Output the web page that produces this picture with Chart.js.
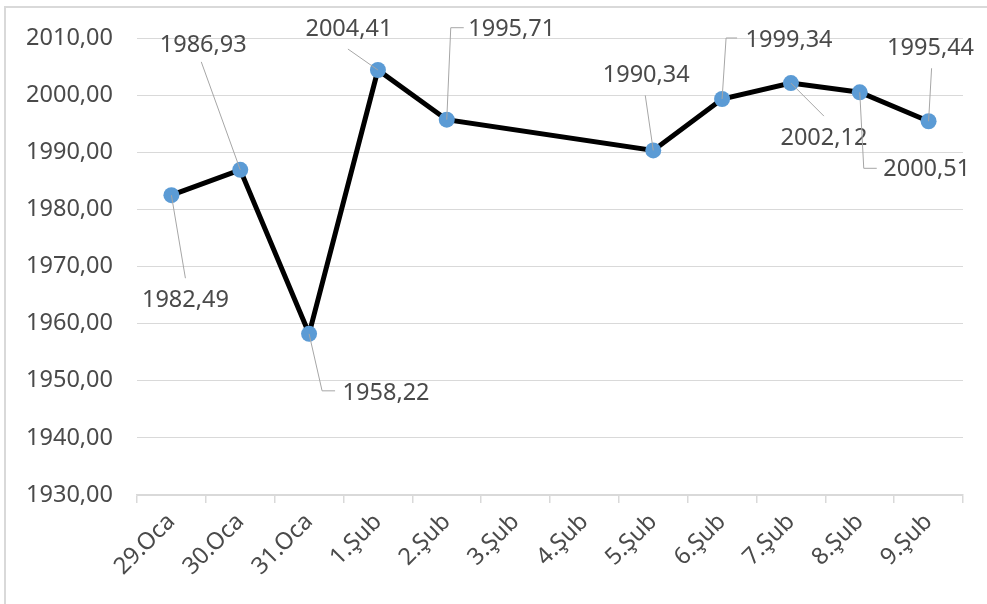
<!DOCTYPE html>
<html lang="tr">
<head>
    <meta charset="UTF-8">
    <title>Kapanış</title>
    <script src="https://cdn.jsdelivr.net/npm/chart.js"></script>
    <style>
        html, body { margin: 0; padding: 0; background: #fff; overflow: hidden; }
        #frame {
            position: absolute; left: 4px; top: 6px;
            width: 1000px; height: 620px;
            border: 2px solid #d9d9d9; box-sizing: border-box;
        }
        #wrap { position: absolute; left: 0; top: 0; width: 987px; height: 604px; }
    </style>
</head>
<body>
    <div id="frame"></div>
    <div id="wrap"><canvas id="priceChart"></canvas></div>

    <script>
        // chart data
        const days = ['29.Oca', '30.Oca', '31.Oca', '1.Şub', '2.Şub', '3.Şub', '4.Şub',
                      '5.Şub', '6.Şub', '7.Şub', '8.Şub', '9.Şub'];
        const closes = [1982.49, 1986.93, 1958.22, 2004.41, 1995.71, null, null,
                        1990.34, 1999.34, 2002.12, 2000.51, 1995.44];
        const yMin = 1930, yMax = 2010, yStep = 10;

        // where each data label sits relative to its point (px), and the leader line path
        const labelPlacement = [
            { dx: 14, dy: 105, leader: [[14, 83]] },
            { dx: -37, dy: -125, leader: [[-39, -108]] },
            { dx: 77, dy: 59, leader: [[13, 57], [26, 57]] },
            { dx: -29, dy: -41, leader: [[-30, -21]] },
            { dx: 65, dy: -90, leader: [[4, -92], [17, -92]] },
            null,
            null,
            { dx: -7, dy: -75, leader: [[-8, -55]] },
            { dx: 67, dy: -59, leader: [[4, -61], [15, -61]] },
            { dx: 33, dy: 55, leader: [[33, 33]] },
            { dx: 67, dy: 77, leader: [[4, 76], [17, 76]] },
            { dx: 2, dy: -73, leader: [[3, -53]] }
        ];

        const fmt = v => v.toFixed(2).replace('.', ',');
        const FONT = '"Noto Sans", "Open Sans", sans-serif';
        const TEXT = '#4a4a4a';

        // draws the value labels with their leader lines
        const dataLabels = {
            id: 'dataLabels',
            afterDatasetsDraw(chart) {
                const ctx = chart.ctx;
                const meta = chart.getDatasetMeta(0);
                ctx.save();
                meta.data.forEach((pt, i) => {
                    const v = closes[i];
                    const p = labelPlacement[i];
                    if (v === null || !p) return;
                    ctx.strokeStyle = '#a6a6a6';
                    ctx.lineWidth = 1;
                    ctx.beginPath();
                    ctx.moveTo(pt.x, pt.y);
                    p.leader.forEach(([lx, ly]) => ctx.lineTo(pt.x + lx, pt.y + ly));
                    ctx.stroke();
                    ctx.font = '23.5px ' + FONT;
                    ctx.fillStyle = TEXT;
                    ctx.textAlign = 'center';
                    ctx.textBaseline = 'middle';
                    ctx.fillText(fmt(v), pt.x + p.dx, pt.y + p.dy);
                });
                ctx.restore();
            }
        };

        const ctx = document.getElementById('priceChart').getContext('2d');
        const priceChart = new Chart(ctx, {
            type: 'line',
            data: {
                labels: days,
                datasets: [{
                    data: closes,
                    borderColor: '#000000',
                    borderWidth: 5,
                    pointRadius: 8,
                    pointHoverRadius: 8,
                    pointBackgroundColor: '#5b9bd5',
                    pointBorderColor: '#5b9bd5',
                    pointBorderWidth: 0,
                    spanGaps: true,
                    tension: 0
                }]
            },
            options: {
                responsive: true,
                maintainAspectRatio: false,
                animation: false,
                layout: { padding: { top: 37, right: 24, left: 0, bottom: 0 } },
                plugins: {
                    legend: { display: false },
                    tooltip: { enabled: false }
                },
                scales: {
                    x: {
                        offset: true,
                        grid: {
                            offset: true,
                            drawOnChartArea: false,
                            color: '#d9d9d9',
                            tickLength: 8,
                            lineWidth: 1.5
                        },
                        border: { display: true, color: '#d9d9d9', width: 1.5 },
                        ticks: {
                            minRotation: 45,
                            maxRotation: 45,
                            autoSkip: false,
                            padding: 5,
                            color: TEXT,
                            font: { family: FONT, size: 23.5 }
                        },
                        afterFit(scale) { scale.height = 109; }
                    },
                    y: {
                        min: yMin,
                        max: yMax,
                        grid: { color: '#d9d9d9', drawTicks: false, lineWidth: 1 },
                        border: { display: false },
                        ticks: {
                            stepSize: yStep,
                            padding: 24,
                            color: TEXT,
                            font: { family: FONT, size: 23.5 },
                            callback: v => fmt(v)
                        },
                        afterFit(scale) { scale.width = 137; }
                    }
                }
            },
            plugins: [dataLabels]
        });
    </script>
</body>
</html>
